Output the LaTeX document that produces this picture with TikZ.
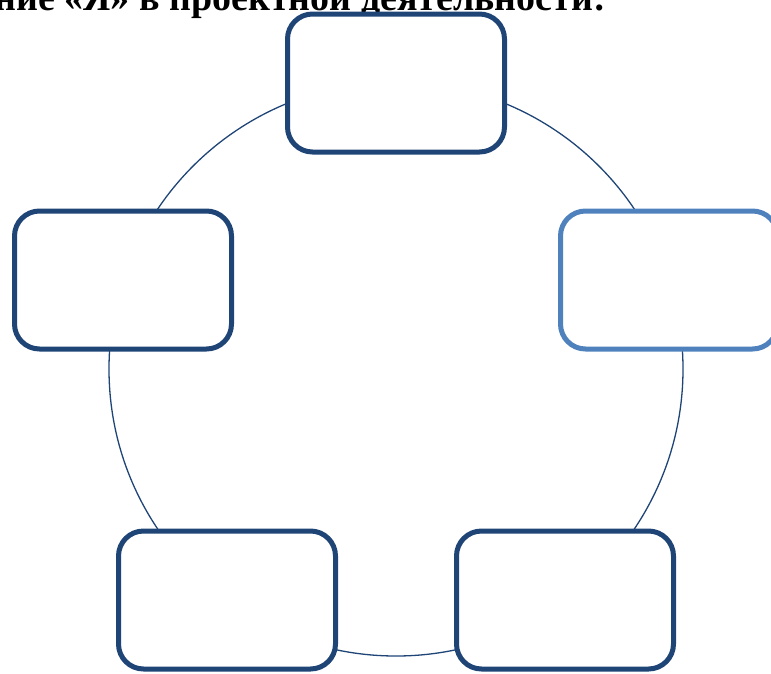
\documentclass[tikz,border=0pt]{standalone}
\usepackage{fontspec}
\setmainfont{Liberation Serif}
\definecolor{boxdark}{RGB}{31,68,118}
\definecolor{boxlight}{RGB}{79,129,189}
\definecolor{ringcol}{RGB}{31,68,118}
\begin{document}
\begin{tikzpicture}[x=1pt,y=-1pt,
  cbox/.style={draw=boxdark, line width=5pt, fill=white, rounded corners=25pt,
    minimum width=217pt, minimum height=138pt, inner sep=0pt},
  lbox/.style={cbox, draw=boxlight},
  ttl/.style={font=\bfseries\fontsize{38}{44}\selectfont, inner sep=0pt, anchor=base east}]
\useasboundingbox (0,0) rectangle (771,673);
\node[ttl] (title) at (606,10) {Понимание «Я» в проектной деятельности:};
\draw[ringcol, line width=1.3pt] (396,369) circle[radius=287];
\node[cbox] (top) at (396,83) {};
\node[cbox] (left) at (123,280) {};
\node[lbox] (right) at (669,280) {};
\node[cbox] (bl) at (227,600) {};
\node[cbox] (br) at (565,600) {};
\end{tikzpicture}
\end{document}
